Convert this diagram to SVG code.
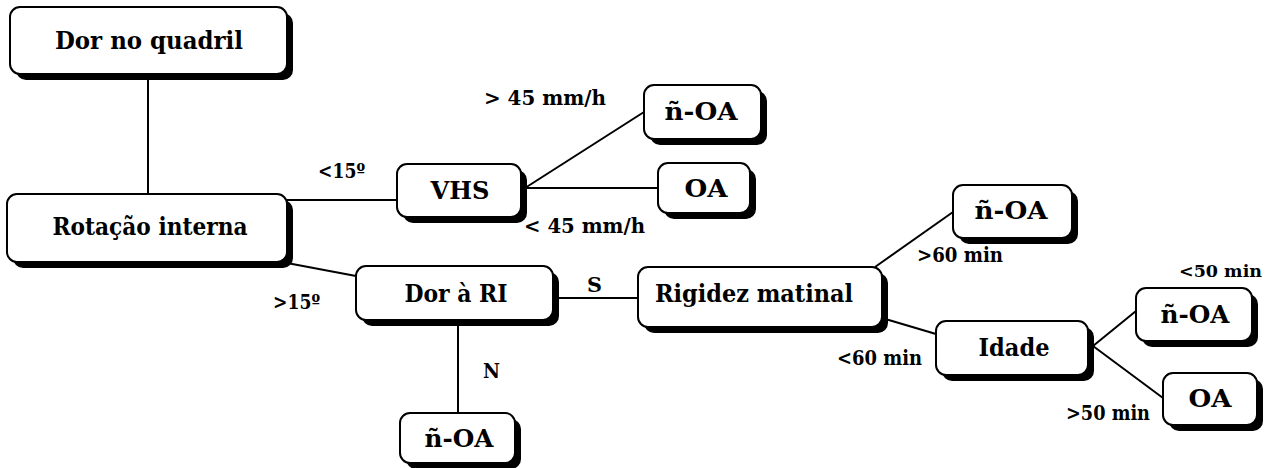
<svg xmlns="http://www.w3.org/2000/svg" width="1274" height="468" viewBox="0 0 1274 468">
<style>
.sh{fill:#000}
.bx{fill:#fff;stroke:#000;stroke-width:2}
.t{font-family:"DejaVu Serif","Liberation Serif",serif;font-weight:bold;font-size:25px;text-anchor:middle;fill:#000}
.l{font-family:"DejaVu Serif","Liberation Serif",serif;font-weight:bold;font-size:21px;fill:#000}
.c{stroke:#000;stroke-width:2;fill:none}
</style>
<rect width="1274" height="468" fill="#fff"/>
<g id="connectors">
<line class="c" x1="148" y1="74" x2="148" y2="194"/>
<line class="c" x1="287" y1="200" x2="397" y2="200"/>
<line class="c" x1="287" y1="263" x2="356" y2="276"/>
<line class="c" x1="525" y1="188" x2="644" y2="112"/>
<line class="c" x1="525" y1="188" x2="658" y2="188"/>
<line class="c" x1="553" y1="298" x2="638" y2="298"/>
<line class="c" x1="458" y1="320" x2="458" y2="413"/>
<line class="c" x1="875" y1="267" x2="953" y2="212"/>
<line class="c" x1="882" y1="318" x2="936" y2="334"/>
<line class="c" x1="1093" y1="346" x2="1136" y2="311"/>
<line class="c" x1="1093" y1="346" x2="1163" y2="398"/>
<text class="l" x="318" y="178" textLength="47" lengthAdjust="spacingAndGlyphs">&lt;15º</text>
<text class="l" x="273" y="309" textLength="47" lengthAdjust="spacingAndGlyphs">&gt;15º</text>
<text class="l" x="484" y="105" textLength="122" lengthAdjust="spacingAndGlyphs">&gt; 45 mm/h</text>
<text class="l" x="524" y="233" textLength="121" lengthAdjust="spacingAndGlyphs">&lt; 45 mm/h</text>
<text class="l" x="587" y="292" textLength="15" lengthAdjust="spacingAndGlyphs">S</text>
<text class="l" x="483" y="378" textLength="17" lengthAdjust="spacingAndGlyphs">N</text>
<text class="l" x="917" y="262" textLength="86" lengthAdjust="spacingAndGlyphs">&gt;60 min</text>
<text class="l" x="837" y="365" textLength="85" lengthAdjust="spacingAndGlyphs">&lt;60 min</text>
<text class="l" x="1179" y="277" style="font-size:17.5px">&lt;50 min</text>
<text class="l" x="1066" y="420" textLength="84" lengthAdjust="spacingAndGlyphs">&gt;50 min</text>
</g>
<g id="n1"><rect class="sh" x="16" y="13" width="277" height="67" rx="10"/><rect class="bx" x="10" y="7" width="277" height="67" rx="10"/><text class="t" x="149" y="49" textLength="188" lengthAdjust="spacingAndGlyphs">Dor no quadril</text></g>
<g id="n2"><rect class="sh" x="13" y="200" width="280" height="68" rx="10"/><rect class="bx" x="7" y="194" width="280" height="68" rx="10"/><text class="t" x="150" y="235" textLength="195" lengthAdjust="spacingAndGlyphs">Rotação interna</text></g>
<g id="n3"><rect class="sh" x="403" y="170" width="124" height="53" rx="10"/><rect class="bx" x="397" y="164" width="124" height="53" rx="10"/><text class="t" x="460" y="199" textLength="59" lengthAdjust="spacingAndGlyphs">VHS</text></g>
<g id="n4"><rect class="sh" x="650" y="91" width="117" height="54" rx="10"/><rect class="bx" x="644" y="85" width="117" height="54" rx="10"/><text class="t" x="701" y="120" textLength="73" lengthAdjust="spacingAndGlyphs">ñ-OA</text></g>
<g id="n5"><rect class="sh" x="664" y="169" width="92" height="50" rx="10"/><rect class="bx" x="658" y="163" width="92" height="50" rx="10"/><text class="t" x="706" y="197" textLength="43" lengthAdjust="spacingAndGlyphs">OA</text></g>
<g id="n6"><rect class="sh" x="362" y="272" width="197" height="54" rx="10"/><rect class="bx" x="356" y="266" width="197" height="54" rx="10"/><text class="t" x="456" y="302" textLength="103" lengthAdjust="spacingAndGlyphs">Dor à RI</text></g>
<g id="n7"><rect class="sh" x="406" y="419" width="115" height="50" rx="10"/><rect class="bx" x="400" y="413" width="115" height="50" rx="10"/><text class="t" x="459" y="447" textLength="69" lengthAdjust="spacingAndGlyphs">ñ-OA</text></g>
<g id="n8"><rect class="sh" x="644" y="273" width="244" height="60" rx="10"/><rect class="bx" x="638" y="267" width="244" height="60" rx="10"/><text class="t" x="754" y="302" textLength="198" lengthAdjust="spacingAndGlyphs">Rigidez matinal</text></g>
<g id="n9"><rect class="sh" x="959" y="191" width="119" height="53" rx="10"/><rect class="bx" x="953" y="185" width="119" height="53" rx="10"/><text class="t" x="1011" y="219" textLength="73" lengthAdjust="spacingAndGlyphs">ñ-OA</text></g>
<g id="n10"><rect class="sh" x="942" y="327" width="152" height="54" rx="10"/><rect class="bx" x="936" y="321" width="152" height="54" rx="10"/><text class="t" x="1014" y="356" textLength="71" lengthAdjust="spacingAndGlyphs">Idade</text></g>
<g id="n11"><rect class="sh" x="1142" y="294" width="116" height="53" rx="10"/><rect class="bx" x="1136" y="288" width="116" height="53" rx="10"/><text class="t" x="1195" y="323" textLength="69" lengthAdjust="spacingAndGlyphs">ñ-OA</text></g>
<g id="n12"><rect class="sh" x="1169" y="379" width="94" height="52" rx="10"/><rect class="bx" x="1163" y="373" width="94" height="52" rx="10"/><text class="t" x="1210" y="407" textLength="43" lengthAdjust="spacingAndGlyphs">OA</text></g>
</svg>
